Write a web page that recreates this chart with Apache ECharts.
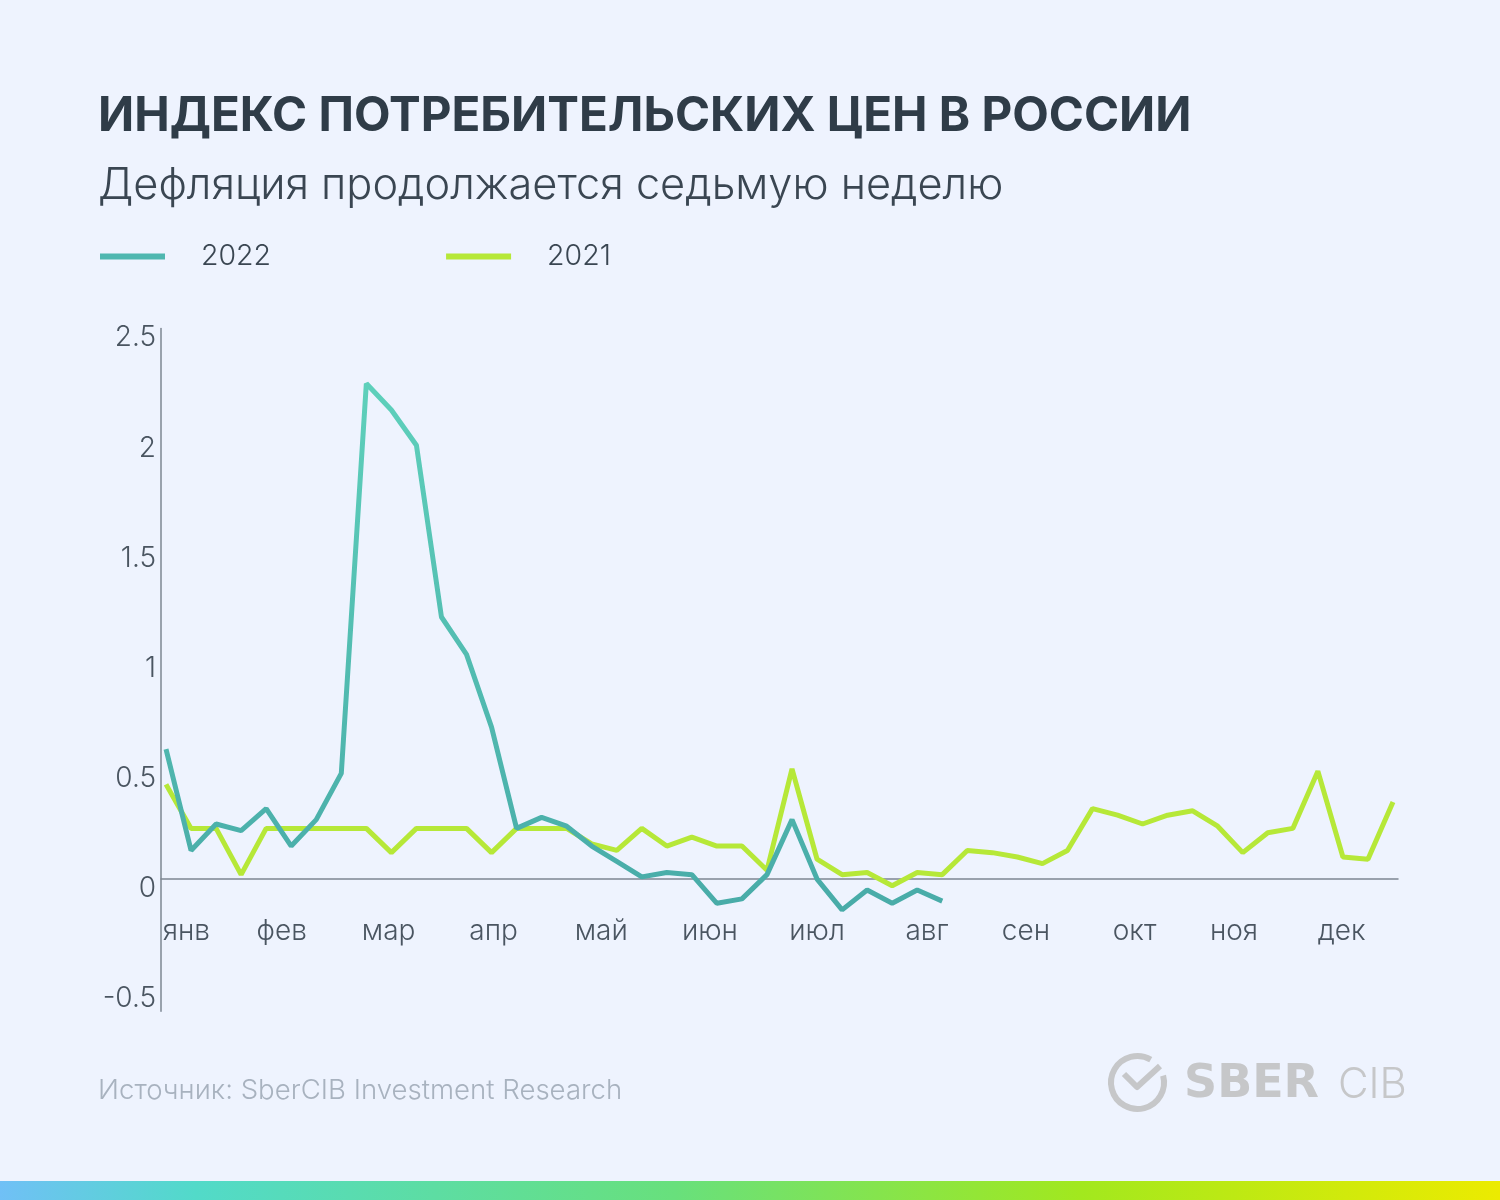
<!DOCTYPE html>
<html><head><meta charset="utf-8">
<script src="https://cdn.jsdelivr.net/npm/echarts@6/dist/echarts.min.js"></script>
<style>html,body{margin:0;padding:0;background:#eef3fe}#c{width:1500px;height:1200px}</style>
</head><body><div id="c"></div>
<script>
// ---- data ----
const titleText = 'ИНДЕКС ПОТРЕБИТЕЛЬСКИХ ЦЕН В РОССИИ';
const subtitleText = 'Дефляция продолжается седьмую неделю';
const sourceText = 'Источник: SberCIB Investment Research';
const seriesNames = ['2022', '2021'];
// weekly CPI change, %, by week of year (index 0 = first week)
const values2022 = [0.59, 0.13, 0.25, 0.22, 0.32, 0.15, 0.27, 0.48, 2.25, 2.13, 1.97, 1.19, 1.02, 0.69,
  0.23, 0.28, 0.24, 0.15, 0.08, 0.01, 0.03, 0.02, -0.11, -0.09, 0.02, 0.27, 0.00, -0.14, -0.05, -0.11, -0.05, -0.10];
const values2021 = [0.43, 0.23, 0.23, 0.02, 0.23, 0.23, 0.23, 0.23, 0.23, 0.12,
  0.23, 0.23, 0.23, 0.12, 0.23, 0.23, 0.23, 0.16, 0.13, 0.23,
  0.15, 0.19, 0.15, 0.15, 0.04, 0.50, 0.09, 0.02, 0.03, -0.03,
  0.03, 0.02, 0.13, 0.12, 0.10, 0.07, 0.13, 0.32, 0.29, 0.25,
  0.29, 0.31, 0.24, 0.12, 0.21, 0.23, 0.49, 0.10, 0.09, 0.35];
const monthLabels = ['янв', 'фев', 'мар', 'апр', 'май', 'июн', 'июл', 'авг', 'сен', 'окт', 'ноя', 'дек'];
const monthTickWeeks = [0.81, 4.62, 8.89, 13.08, 17.38, 21.72, 26.0, 30.39, 34.34, 38.68, 42.65, 46.95];
const yTickValues = [-0.5, 0, 0.5, 1, 1.5, 2, 2.5];

// ---- chart ----
const FONT = 'Inter';
const toPairs = arr => arr.map((v, i) => [i, v]);
const chart = echarts.init(document.getElementById('c'), null, {renderer: 'canvas'});
const C2022 = '#4fb7b0', C2021 = '#b6e838';
const Y_MIN = -0.6, GRID_TOP = 328.5, GRID_BOTTOM_PX = 1011.2;
const zeroPx = 879;
chart.setOption({
  animation: false,
  backgroundColor: '#eef3fe',
  title: [
    {text: titleText, left: 98, top: 93, padding: 0,
     textStyle: {fontFamily: FONT, fontWeight: 'bold', fontSize: 47.5, lineHeight: 48, color: '#2f3c48'}},
    {text: subtitleText, left: 98, top: 164, padding: 0,
     textStyle: {fontFamily: FONT, fontWeight: 300, fontSize: 43.3, lineHeight: 43, color: '#3a4652'}}
  ],
  legend: {
    data: seriesNames, left: 100, top: 242, padding: 0, itemGap: 175,
    icon: 'rect', itemWidth: 65, itemHeight: 6,
    textStyle: {fontFamily: FONT, fontWeight: 300, fontSize: 28.5, color: '#3a4652', padding: [0, 0, 0, 31]}
  },
  grid: {left: 161, right: 102, top: GRID_TOP, bottom: 1200 - GRID_BOTTOM_PX, containLabel: false},
  xAxis: {
    type: 'value', min: -0.2, max: 49.2,
    axisLine: {onZero: true, lineStyle: {color: '#7d8792', width: 1.5}},
    axisTick: {show: false}, splitLine: {show: false},
    axisLabel: {
      customValues: monthTickWeeks, margin: 39 - (GRID_BOTTOM_PX - zeroPx),
      fontFamily: FONT, fontWeight: 300, fontSize: 28, lineHeight: 28,
      color: '#4a5561',
      formatter: v => { const i = monthTickWeeks.findIndex(m => Math.abs(m - v) < 1e-6); return i >= 0 ? monthLabels[i] : ''; }
    }
  },
  yAxis: {
    type: 'value', min: Y_MIN, max: 2.5,
    axisLine: {show: true, onZero: false, lineStyle: {color: '#7d8792', width: 1.5}},
    axisTick: {show: false}, splitLine: {show: false},
    axisLabel: {
      customValues: yTickValues, margin: 5, fontFamily: FONT, fontWeight: 300, fontSize: 28, lineHeight: 19,
      verticalAlign: 'top', color: '#4a5561',
      formatter: v => String(Math.round(v * 10) / 10)
    }
  },
  series: [
    {name: '2021', type: 'line', data: toPairs(values2021), symbol: 'none', z: 2,
     itemStyle: {color: C2021}, lineStyle: {color: C2021, width: 5}},
    {name: '2022', type: 'line', data: toPairs(values2022), symbol: 'none', z: 3,
     itemStyle: {color: C2022},
     lineStyle: {width: 5, color: new echarts.graphic.LinearGradient(0, 0, 0, 1, [
       {offset: 0, color: '#5ed0bb'}, {offset: 1, color: '#48aba8'}])}}
  ],
  graphic: [
    {type: 'text', left: 98, top: 1077, style: {text: sourceText, fontFamily: FONT, fontWeight: 300, fontSize: 27.6, fill: '#a8b2bf'}},
    {type: 'arc', shape: {cx: 1137.5, cy: 1082.5, r: 26.5, startAngle: -15 * Math.PI / 180, endAngle: 300 * Math.PI / 180, clockwise: true},
     style: {stroke: '#c6c7c9', lineWidth: 6, fill: null}},
    {type: 'polyline', shape: {points: [[1124, 1074], [1137, 1087], [1160, 1066]]},
     style: {stroke: '#c6c7c9', lineWidth: 6, fill: null, lineJoin: 'round'}},
    {type: 'text', x: 1184, y: 1085, style: {text: 'SBER', fontFamily: 'DejaVu Sans', fontWeight: 'bold', fontSize: 46, fill: '#c6c7c9', verticalAlign: 'middle'}},
    {type: 'text', x: 1338, y: 1085, style: {text: 'CIB', fontFamily: FONT, fontWeight: 300, fontSize: 42, fill: '#c6c7c9', verticalAlign: 'middle'}},
    {type: 'rect', shape: {x: 0, y: 1181, width: 1500, height: 19},
     style: {fill: new echarts.graphic.LinearGradient(0, 0, 1, 0, [
       {offset: 0, color: '#70c0f6'}, {offset: 0.13, color: '#52dac9'}, {offset: 0.45, color: '#68e07c'},
       {offset: 0.72, color: '#a2e81e'}, {offset: 1, color: '#eceb00'}])}}
  ]
});
</script></body></html>
